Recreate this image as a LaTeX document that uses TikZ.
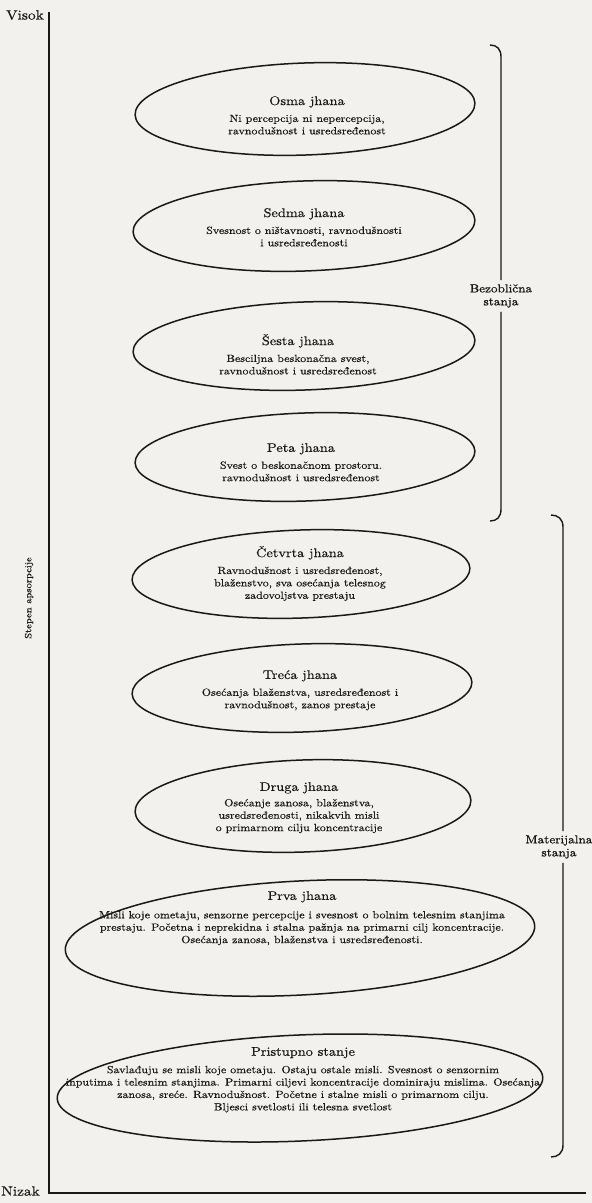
\documentclass[tikz,border=0pt]{standalone}
\usepackage{fontspec}
\usetikzlibrary{shapes.geometric}
\newfontfamily\dfont{lmroman10-regular}[Extension=.otf,FakeStretch=1.15,FakeBold=0.4]
\newfontfamily\dfontb{lmroman10-regular}[Extension=.otf,FakeStretch=1.15,FakeBold=0.8]
\definecolor{paper}{RGB}{242,241,237}
\definecolor{ink}{RGB}{25,25,25}
\newcommand\jt[1]{{\fontsize{12.5}{14}\selectfont #1}}
\tikzset{
  jh/.style={draw=ink, ellipse, line width=1.5pt, inner sep=0pt},
  txt/.style={align=center, inner sep=0pt, anchor=north, text=ink,
    font=\dfont\fontsize{10.4}{12.4}\selectfont},
  lbl/.style={inner sep=0pt, text=ink,
    font=\dfont\fontsize{13.4}{15}\selectfont},
  side/.style={align=center, inner sep=4pt, text=ink,
    font=\dfontb\fontsize{11.5}{13}\selectfont},
  axisline/.style={draw=ink, line width=1.4pt},
  bracket/.style={draw=ink, line width=1.4pt}
}
\begin{document}
\begin{tikzpicture}[x=1pt,y=-1pt]
\fill[paper] (0,0) rectangle (592,1203);
\useasboundingbox (0,0) rectangle (592,1203);

% axes
\coordinate (top) at (49,12);
\coordinate (origin) at (49,1193);
\coordinate (xend) at (586,1193);
\draw[axisline] (top) -- (origin) -- (xend);
\node[lbl, anchor=east] (visok) at (44,15) {Visok};
\node[lbl, anchor=east] (nizak) at (40,1191) {Nizak};
\node[txt, anchor=center, rotate=90, font=\dfont\fontsize{9.2}{12}\selectfont] (stepen) at (29,598) {Stepen apsorpcije};

% ellipses
\node[jh, minimum width=340, minimum height=92, rotate=2] (osma) at (305,109) {};
\node[jh, minimum width=342, minimum height=90, rotate=2] (sedma) at (304,226) {};
\node[jh, minimum width=342, minimum height=88, rotate=2] (sesta) at (304,346) {};
\node[jh, minimum width=340, minimum height=88, rotate=2] (peta) at (305,457) {};
\node[jh, minimum width=338, minimum height=88, rotate=2] (cetvrta) at (301,574) {};
\node[jh, minimum width=340, minimum height=88, rotate=2] (treca) at (302,688) {};
\node[jh, minimum width=336, minimum height=92, rotate=2] (druga) at (303,806) {};
\node[jh, minimum width=470, minimum height=114, rotate=3] (prva) at (300,938) {};
\node[jh, minimum width=486, minimum height=106, rotate=2.5] (pristupno) at (300,1088) {};

% texts
\node[txt] (osmat) at (307,96) {\jt{Osma jhana}\\[4.5pt]Ni percepcija ni nepercepcija,\\ravnodušnost i usredsređenost};
\node[txt] (sedmat) at (304,208) {\jt{Sedma jhana}\\[4.5pt]Svesnost o ništavnosti, ravnodušnosti\\i usredsređenosti};
\node[txt] (sestat) at (298,334) {\jt{Šesta jhana}\\[4.5pt]Besciljna beskonačna svest,\\ravnodušnost i usredsređenost};
\node[txt] (petat) at (301,443) {\jt{Peta jhana}\\[4.5pt]Svest o beskonačnom prostoru.\\ravnodušnost i usredsređenost};
\node[txt] (cetvrtat) at (300,546) {\jt{Četvrta jhana}\\[4.5pt]Ravnodušnost i usredsređenost,\\blaženstvo, sva osećanja telesnog\\zadovoljstva prestaju};
\node[txt] (trecat) at (300,670) {\jt{Treća jhana}\\[4.5pt]Osećanja blaženstva, usredsređenost i\\ravnodušnost, zanos prestaje};
\node[txt] (drugat) at (299,782) {\jt{Druga jhana}\\[3pt]Osećanje zanosa, blaženstva,\\usredsređenosti, nikakvih misli\\o primarnom cilju koncentracije};
\node[txt] (prvat) at (302,891) {\jt{Prva jhana}\\[6pt]Misli koje ometaju, senzorne percepcije i svesnost o bolnim telesnim stanjima\\prestaju. Početna i neprekidna i stalna pažnja na primarni cilj koncentracije.\\Osećanja zanosa, blaženstva i usredsređenosti.};
\node[txt] (pristupnot) at (303,1047) {\jt{Pristupno stanje}\\[5pt]Savlađuju se misli koje ometaju. Ostaju ostale misli. Svesnost o senzornim\\inputima i telesnim stanjima. Primarni ciljevi koncentracije dominiraju mislima. Osećanja\\zanosa, sreće. Ravnodušnost. Početne i stalne misli o primarnom cilju.\\Bljesci svetlosti ili telesna svetlost};

% brackets
\node[side] (bez) at (501,296) {Bezoblična\\stanja};
\coordinate (bA) at (490,45);
\coordinate (bB) at (490,521);
\draw[bracket] (bA) .. controls (497,45) and (501,49) .. (501,57) -- (bez.north);
\draw[bracket] (bez.south) -- (501,509) .. controls (501,517) and (497,521) .. (bB);

\node[side] (mat) at (559,847) {Materijalna\\stanja};
\coordinate (mA) at (551,515);
\coordinate (mB) at (551,1157);
\draw[bracket] (mA) .. controls (558,515) and (563,519) .. (563,527) -- (mat.north -| 563,0);
\draw[bracket] (mat.south -| 563,0) -- (563,1145) .. controls (563,1153) and (558,1157) .. (mB);
\end{tikzpicture}
\end{document}
